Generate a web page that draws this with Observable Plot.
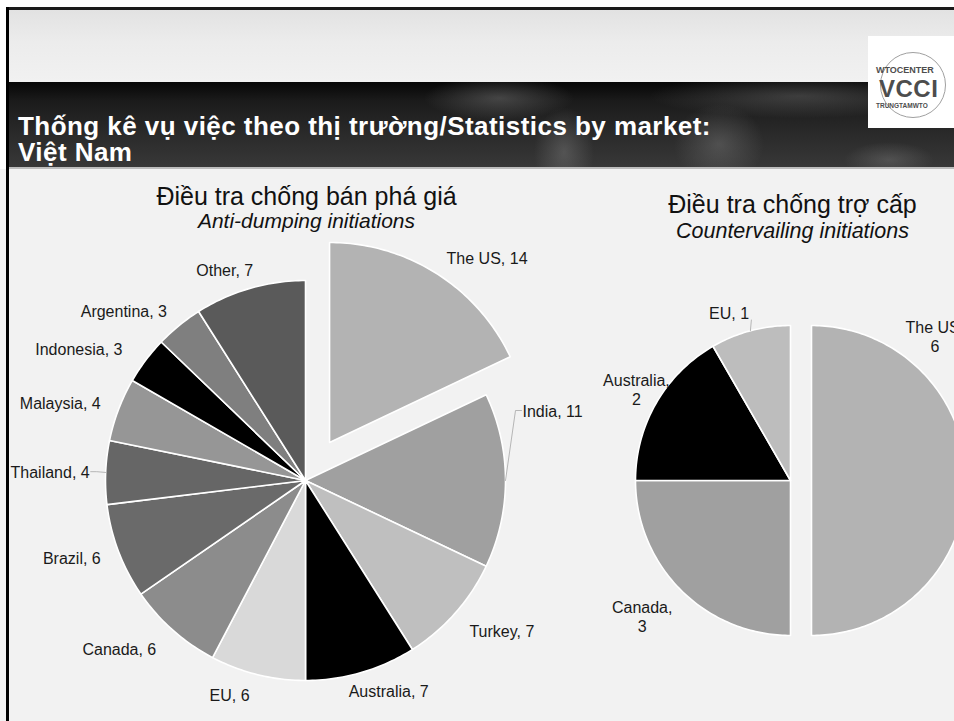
<!DOCTYPE html>
<html><head><meta charset="utf-8">
<script src="https://cdn.jsdelivr.net/npm/d3@7"></script>
<script src="https://cdn.jsdelivr.net/npm/@observablehq/plot@0.6"></script>
<style>
body{margin:0;background:#fff;font-family:"Liberation Sans",Arial,sans-serif;}
#page{position:relative;width:954px;height:721px;overflow:hidden;background:#fff;}
#light{position:absolute;left:9px;top:10px;width:945px;height:72px;
  background:linear-gradient(180deg,#e2e2e2 0%,#ececec 45%,#f1f1f1 100%);}
#dark{position:absolute;left:9px;top:82px;width:945px;height:86px;
  background:
   radial-gradient(ellipse 75px 22px at 490px 16px, rgba(135,135,135,.40), rgba(135,135,135,0) 100%),
   radial-gradient(ellipse 30px 45px at 555px 70px, rgba(135,135,135,.40), rgba(135,135,135,0) 100%),
   radial-gradient(ellipse 45px 40px at 710px 62px, rgba(135,135,135,.38), rgba(135,135,135,0) 100%),
   radial-gradient(ellipse 150px 22px at 790px 14px, rgba(135,135,135,.35), rgba(135,135,135,0) 100%),
   radial-gradient(ellipse 45px 18px at 880px 78px, rgba(135,135,135,.35), rgba(135,135,135,0) 100%),
   linear-gradient(180deg,#060606 0%,#1b1b1b 22%,#2a2a2a 60%,#383838 100%);}
#strip{position:absolute;left:9px;top:167px;width:945px;height:2px;background:#bdbdbd;}
#title{position:absolute;left:18px;top:113px;color:#fff;font-weight:bold;font-size:26px;white-space:nowrap;letter-spacing:0.45px;}
#title div{height:26px;line-height:26px;}
#logo{position:absolute;left:868px;top:36px;width:90px;height:92px;background:#fff;color:#4d4d4d;font-weight:bold;}
#logo .ring{position:absolute;left:12px;top:16px;width:64px;height:64px;border:1px solid #a0a0a0;border-radius:50%;}
#logo .l1{position:absolute;left:8px;top:29px;font-size:9px;line-height:10px;}
#logo .l2{position:absolute;left:11px;top:40px;font-size:24px;line-height:26px;letter-spacing:0.5px;}
#logo .l3{position:absolute;left:8px;top:66px;font-size:6.5px;line-height:8px;}
#chart{position:absolute;left:0;top:169px;}
#bTop{position:absolute;left:6px;top:7px;width:948px;height:3px;background:#1a1a1a;}
#bLeft{position:absolute;left:6px;top:7px;width:3px;height:714px;background:#000;}
</style></head><body>
<div id="page">
  <div id="light"></div>
  <div id="dark"></div>
  <div id="strip"></div>
  <div id="title"><div>Thống kê vụ việc theo thị trường/Statistics by market:</div><div>Việt Nam</div></div>
  <div id="logo"><div class="ring"></div><div class="l1">WTOCENTER</div><div class="l2">VCCI</div><div class="l3">TRUNGTAMWTO</div></div>
  <div id="chart"></div>
  <div id="bTop"></div><div id="bLeft"></div>
</div>
<script>
// ---- data ----
const adTitle = "Điều tra chống bán phá giá";
const adSubtitle = "Anti-dumping initiations";
const cvTitle = "Điều tra chống trợ cấp";
const cvSubtitle = "Countervailing initiations";

const adMarkets = ["The US","India","Turkey","Australia","EU","Canada","Brazil","Thailand","Malaysia","Indonesia","Argentina","Other"];
const adCounts  = [14,11,7,7,6,6,6,4,4,3,3,7];
const cvMarkets = ["The US","Canada","Australia","EU"];
const cvCounts  = [6,3,2,1];

// ---- styles / layout ----
const adShades = ["#b3b3b3","#a0a0a0","#bfbfbf","#000000","#d9d9d9","#8c8c8c","#6a6a6a","#666666","#969696","#000000","#7f7f7f","#5a5a5a"];
const cvShades = ["#b3b3b3","#a0a0a0","#000000","#bdbdbd"];

const layout = {
  ad: {cx:305, cy:480, r:200, explode:45, gap:19, wrap:false, exploded:"The US", titleY:196.5, subY:220.5, titleDx:1, titleSize:25, subSize:21},
  cv: {cx:790, cy:480, r:155, explode:21, gap:19, wrap:true,  exploded:"The US", titleY:204, subY:230.5, titleDx:2, titleSize:25, subSize:21.5}
};
const labelNudge = {
  ad: {"India":[-2,-70], "Indonesia":[-8,0], "Thailand":[3,0], "EU":[-14,2], "Canada":[-4,4], "Turkey":[0,5], "Other":[-4,0]},
  cv: {"The US":[-80,-144], "Australia":[30,-4], "Canada":[5,13], "EU":[-6,0]}
};
const leaders = {ad:["India","Thailand"], cv:["EU"]};
const FONT = 16, LH = 1.2;

const ctx = document.createElement("canvas").getContext("2d");
ctx.font = `${FONT}px "Liberation Sans"`;
const measure = t => ctx.measureText(t).width;

const slices = [], labels = [], leaderPts = [], titles = [];

function build(key, names, values, shades, title, subtitle) {
  const g = layout[key];
  const arcs = d3.pie().sort(null).value(d => d)(values);
  arcs.forEach((a, i) => {
    const name = names[i], v = values[i];
    const mid = (a.startAngle + a.endAngle) / 2, s = Math.sin(mid), c = -Math.cos(mid);
    const off = name === g.exploded ? g.explode : 0;
    const cx = g.cx + off * s, cy = g.cy + off * c;
    const pts = [{x: cx, y: cy}];
    const n = Math.max(2, Math.ceil((a.endAngle - a.startAngle) * 180 / Math.PI));
    for (let k = 0; k <= n; k++) {
      const t = a.startAngle + (a.endAngle - a.startAngle) * k / n;
      pts.push({x: cx + g.r * Math.sin(t), y: cy - g.r * Math.cos(t)});
    }
    slices.push({pts, fill: shades[i]});
    const text = (g.wrap && name.length > 2) ? `${name},\n${v}` : `${name}, ${v}`;
    const lines = text.split("\n");
    const w = d3.max(lines, measure), h = lines.length * FONT * LH;
    const nd = labelNudge[key][name] || [0, 0];
    const lx = cx + (g.r + g.gap) * s + Math.max(-1, Math.min(1, 2 * s)) * w / 2 + nd[0];
    const ly = cy + (g.r + g.gap) * c + nd[1];
    labels.push({x: lx, y: ly, text});
    if (leaders[key].includes(name)) {
      const ax = cx + g.r * s, ay = cy + g.r * c;
      const id = key + name;
      leaderPts.push({id, x: ax, y: ay});
      if (Math.abs(s) > 0.7) {
        const edge = lx > ax ? lx - w / 2 - 1 : lx + w / 2 + 1;
        const dir = lx > ax ? -1 : 1;
        leaderPts.push({id, x: edge + dir * 6, y: ly});
        leaderPts.push({id, x: edge, y: ly});
      } else {
        const by = ly + h / 2 - 2;
        leaderPts.push({id, x: ax + 1, y: by});
      }
    }
  });
  titles.push({x: g.cx + g.titleDx, y: g.titleY, text: title, size: g.titleSize, style: "normal"});
  titles.push({x: g.cx + g.titleDx, y: g.subY, text: subtitle, size: g.subSize, style: "italic"});
}
build("ad", adMarkets, adCounts, adShades, adTitle, adSubtitle);
build("cv", cvMarkets, cvCounts, cvShades, cvTitle, cvSubtitle);

const marks = slices.map(s => Plot.line(s.pts, {
  x: "x", y: "y", curve: "linear-closed", fill: s.fill, stroke: "#ffffff", strokeWidth: 1.6, strokeLinejoin: "round"
}));
marks.push(Plot.line(leaderPts, {x: "x", y: "y", z: "id", stroke: "#a6a6a6", strokeWidth: 0.8}));
marks.push(Plot.text(labels, {x: "x", y: "y", text: "text", fontSize: FONT, lineHeight: LH, fill: "#1a1a1a", lineAnchor: "middle"}));
for (const t of titles) {
  marks.push(Plot.text([t], {x: "x", y: "y", text: "text", fontSize: t.size, fontStyle: t.style, fill: "#111", lineAnchor: "middle"}));
}

const chart = Plot.plot({
  width: 954, height: 552, margin: 0,
  x: {type: "linear", domain: [0, 954], range: [0, 954], axis: null},
  y: {type: "linear", domain: [169, 721], range: [0, 552], axis: null},
  style: {background: "#f2f2f2", fontFamily: "'Liberation Sans', Arial, sans-serif", overflow: "hidden"},
  marks
});
document.getElementById("chart").appendChild(chart);
</script>
</body></html>
